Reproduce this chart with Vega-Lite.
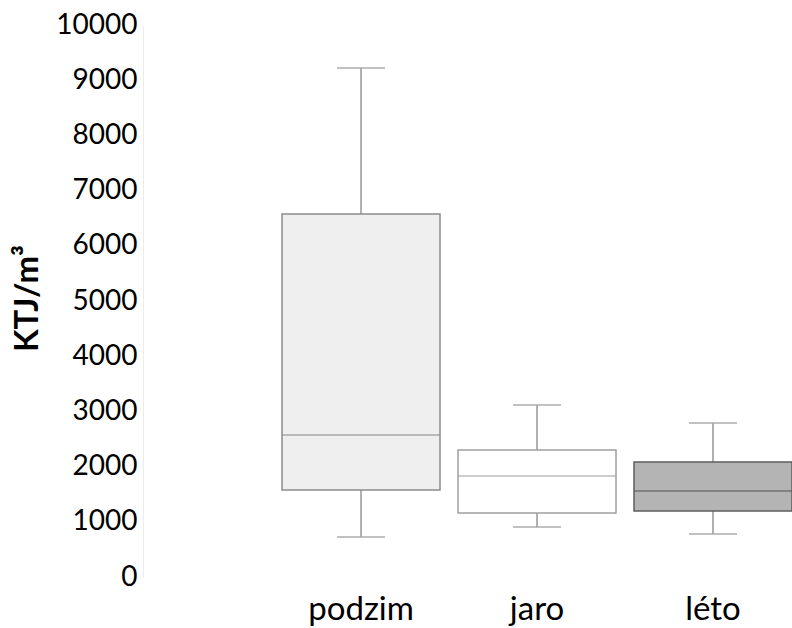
{
  "$schema": "https://vega.github.io/schema/vega-lite/v6.json",
  "autosize": "none",
  "width": 649,
  "height": 552,
  "padding": {"left": 143, "top": 25, "right": 0, "bottom": 51},
  "background": "white",
  "config": {"view": {"stroke": null}, "font": "Lato"},
  "data": {"values": [
    {"season": "podzim", "min": 725, "q1": 1576, "median": 2572, "q3": 6576, "max": 9220},
    {"season": "jaro", "min": 906, "q1": 1160, "median": 1830, "q3": 2300, "max": 3116},
    {"season": "léto", "min": 779, "q1": 1196, "median": 1558, "q3": 2083, "max": 2790}
  ]},
  "encoding": {
    "x": {
      "field": "season", "type": "nominal", "sort": null,
      "scale": {"domain": ["podzim", "jaro", "léto"], "paddingInner": 0.1023, "paddingOuter": 0.395, "align": 1},
      "axis": {"title": null, "ticks": false, "domain": false, "labelAngle": 0, "labelFont": "Lato", "labelFontSize": 33, "labelColor": "black", "labelPadding": 16, "labelBaseline": "top"}
    }
  },
  "layer": [
    {
      "mark": {"type": "rule", "color": "#7a7a7a", "strokeWidth": 1.2},
      "encoding": {
        "y": {"field": "min", "type": "quantitative", "scale": {"domain": [0, 10000], "nice": false},
          "axis": {"values": [0,1000,2000,3000,4000,5000,6000,7000,8000,9000,10000], "format": "d", "grid": false, "ticks": false, "domainColor": "#ececec", "domainWidth": 1, "labelFont": "Lato", "labelFontSize": 28, "labelColor": "black", "labelPadding": 6, "title": "KTJ/m³", "titleFont": "Lato", "titleFontSize": 33, "titleFontWeight": "bold", "titleColor": "black", "titleX": -116, "titleY": 273, "titleBaseline": "middle", "titleAngle": -90}},
        "y2": {"field": "q1"}
      }
    },
    {
      "mark": {"type": "rule", "color": "#7a7a7a", "strokeWidth": 1.2},
      "encoding": {
        "y": {"field": "q3", "type": "quantitative"},
        "y2": {"field": "max"}
      }
    },
    {
      "mark": {"type": "bar", "strokeWidth": 1.5},
      "encoding": {
        "y": {"field": "q1", "type": "quantitative"},
        "y2": {"field": "q3"},
        "fill": {"field": "season", "type": "nominal", "legend": null,
          "scale": {"domain": ["podzim", "jaro", "léto"], "range": ["#efefef", "#ffffff", "#b4b4b4"]}},
        "stroke": {"field": "season", "type": "nominal", "legend": null,
          "scale": {"domain": ["podzim", "jaro", "léto"], "range": ["#8c8c8c", "#a0a0a0", "#5e5e5e"]}}
      }
    },
    {
      "mark": {"type": "tick", "size": 158, "thickness": 1.5},
      "encoding": {
        "y": {"field": "median", "type": "quantitative"},
        "color": {"field": "season", "type": "nominal", "legend": null,
          "scale": {"domain": ["podzim", "jaro", "léto"], "range": ["#8c8c8c", "#a0a0a0", "#555555"]}}
      }
    },
    {
      "mark": {"type": "tick", "size": 48, "thickness": 2, "color": "#a6a6a6"},
      "encoding": {"y": {"field": "min", "type": "quantitative"}}
    },
    {
      "mark": {"type": "tick", "size": 48, "thickness": 2, "color": "#a6a6a6"},
      "encoding": {"y": {"field": "max", "type": "quantitative"}}
    }
  ]
}
